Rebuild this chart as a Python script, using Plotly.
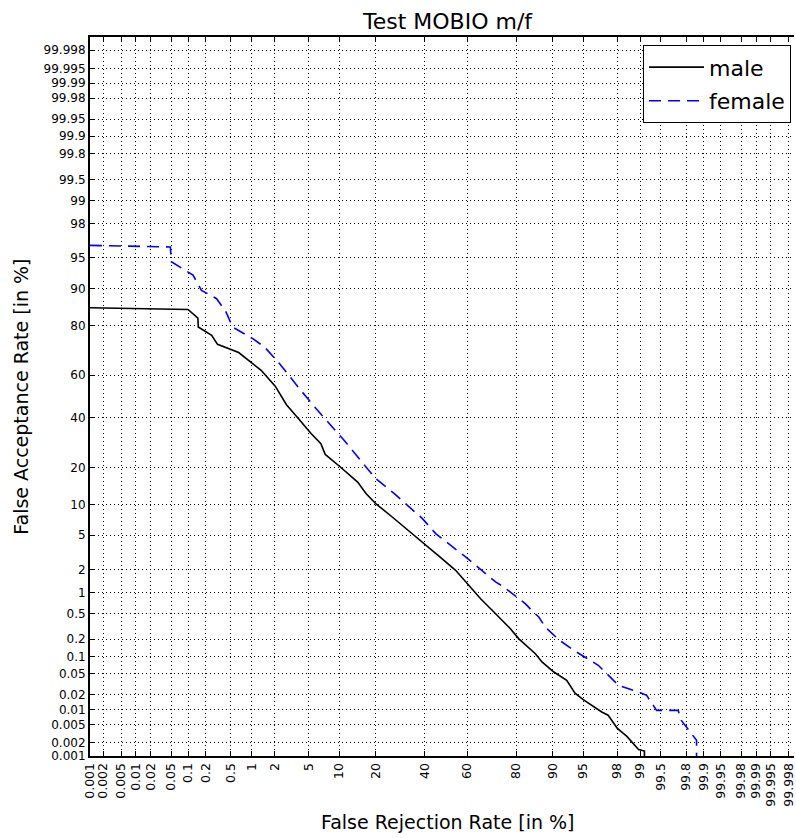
from statistics import NormalDist
import plotly.graph_objects as go

# ---- data (percent) ----
male_frr = [0.001, 0.1, 0.148, 0.15, 0.25, 0.31, 0.65, 0.93, 1.34, 2.04, 2.8, 4.0, 5.3, 6.7, 7.4,
            10.1, 14.5, 16.9, 20.0, 26.1, 34.4, 40.4, 47.5, 54.6, 60.8, 66.1, 71.0, 74.3, 78.0,
            80.8, 85.8, 87.5, 90.2, 92.6, 93.9, 95.0, 96.1, 96.9, 97.4, 98.0, 98.48, 98.95,
            99.13, 99.13]
male_far = [85.4, 84.9, 82.4, 79.5, 76.6, 73.2, 69.9, 66.2, 62.2, 54.9, 46.1, 38.9, 33.0, 28.8, 24.6,
            20.4, 15.5, 12.5, 10.2, 7.6, 5.1, 3.87, 2.79, 1.96, 1.25, 0.82, 0.56, 0.42, 0.294,
            0.204, 0.114, 0.082, 0.054, 0.038, 0.0217, 0.0162, 0.0119, 0.0091, 0.0078, 0.0041,
            0.0028, 0.0014, 0.0013, 0.0009]

female_frr = [0.001, 0.048, 0.05, 0.122, 0.17, 0.30, 0.42, 0.53, 1.03, 1.49, 2.3, 3.3, 3.96, 5.97,
              8.1, 10.77, 20.0, 26.7, 38.9, 45.1, 59.3, 72.4, 75.6, 80.8, 82.9, 85.4, 86.7, 88.3,
              91.15, 93.7, 95.8, 96.6, 97.65, 98.06, 98.94, 99.19, 99.42, 99.73, 99.76, 99.79,
              99.866, 99.866]
female_far = [96.35, 96.2, 94.5, 92.5, 89.6, 87.7, 84.2, 79.5, 75.4, 72.1, 65.2, 57.6, 53.7, 44.3,
              37.4, 30.9, 16.5, 12.5, 7.37, 5.19, 2.85, 1.39, 1.19, 0.82, 0.70, 0.517, 0.445, 0.312,
              0.196, 0.130, 0.0874, 0.0714, 0.0408, 0.0306, 0.0228, 0.0196, 0.0098, 0.0098, 0.0061,
              0.0048, 0.00226, 0.0009]

tick_labels = ["0.001", "0.002", "0.005", "0.01", "0.02", "0.05", "0.1", "0.2", "0.5", "1", "2",
               "5", "10", "20", "40", "60", "80", "90", "95", "98", "99", "99.5", "99.8", "99.9",
               "99.95", "99.98", "99.99", "99.995", "99.998"]

nd = NormalDist()


def ppndf(values):
    return [nd.inv_cdf(v / 100.0) for v in values]


tick_vals = ppndf([float(t) for t in tick_labels])
lo = nd.inv_cdf(1e-5)

fig = go.Figure()
fig.add_trace(go.Scatter(x=ppndf(male_frr), y=ppndf(male_far), mode="lines", name="male",
                         legendgroup="m",
                         line=dict(color="black", width=1.6)))
fig.add_trace(go.Scatter(x=ppndf(female_frr), y=ppndf(female_far), mode="lines", name="female",
                         legendgroup="f",
                         line=dict(color="#0000ff", width=1.6, dash="12px,7px")))

axis_common = dict(
    tickvals=tick_vals, ticktext=tick_labels,
    ticks="inside", ticklen=5, tickwidth=1, tickcolor="black",
    showgrid=True, gridcolor="black", gridwidth=1, griddash="1px,3px",
    zeroline=False, showline=True, linecolor="black", linewidth=2,
)

fig.update_xaxes(range=[lo, lo + 706 / 83.7], tickangle=-90, mirror="ticks",
                 ticklabeloverflow="allow",
                 tickfont=dict(family="DejaVu Sans", size=12.5, color="black"), **axis_common)
fig.update_yaxes(range=[lo, -lo],
                 tickfont=dict(family="DejaVu Sans", size=12, color="black"), **axis_common)

fig.update_layout(
    width=796, height=838,
    margin=dict(l=90, r=0, t=37, b=82),
    paper_bgcolor="white", plot_bgcolor="white",
    font=dict(family="DejaVu Sans", color="black"),
    showlegend=True,
    legend=dict(x=0.9958, xanchor="right", y=(755.7 - 45) / 719, yanchor="top",
                bgcolor="white", bordercolor="black", borderwidth=1,
                font=dict(size=22, family="DejaVu Sans", color="black"),
                itemwidth=55, tracegroupgap=2),
    annotations=[
        dict(text="Test MOBIO m/f", xref="paper", yref="paper",
             x=(448.5 - 90) / 706, y=(755.7 - 21) / 719, xanchor="center", yanchor="middle",
             showarrow=False, font=dict(size=22, family="DejaVu Sans", color="black")),
        dict(text="False Rejection Rate [in %]", xref="paper", yref="paper",
             x=(449 - 90) / 706, y=(755.7 - 822) / 719, xanchor="center", yanchor="middle",
             showarrow=False, font=dict(size=19, family="DejaVu Sans", color="black")),
        dict(text="False Acceptance Rate [in %]", xref="paper", yref="paper",
             x=(20 - 90) / 706, y=0.5, xanchor="center", yanchor="middle", textangle=-90,
             showarrow=False, font=dict(size=19, family="DejaVu Sans", color="black")),
    ],
)

fig.write_html("out.html")
